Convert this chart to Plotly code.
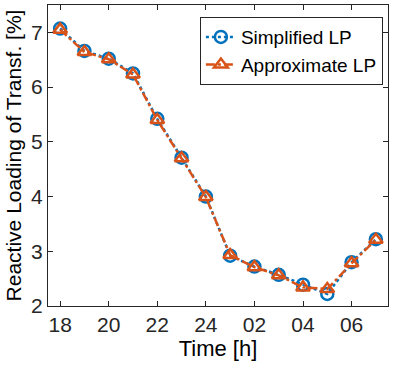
import plotly.graph_objects as go

hours = [18, 19, 20, 21, 22, 23, 24, 25, 26, 27, 28, 29, 30, 31]
simplified = [7.07, 6.66, 6.52, 6.25, 5.42, 4.71, 4.00, 2.92, 2.72, 2.57, 2.39, 2.22, 2.80, 3.22]
approximate = [7.05, 6.64, 6.51, 6.23, 5.40, 4.70, 3.99, 2.93, 2.71, 2.56, 2.34, 2.31, 2.78, 3.21]
tick_vals = [18, 20, 22, 24, 26, 28, 30]
tick_text = ["18", "20", "22", "24", "02", "04", "06"]

FONT = "Liberation Sans, Arial, sans-serif"
BLUE = "#0072BD"
ORANGE = "#D95319"

fig = go.Figure()
fig.add_trace(go.Scatter(
    x=hours, y=simplified, name="Simplified LP", mode="lines+markers",
    line=dict(color=BLUE, width=2.5, dash="dot"),
    marker=dict(symbol="circle-open", size=12, color=BLUE, line=dict(width=2.5, color=BLUE)),
))
fig.add_trace(go.Scatter(
    x=hours, y=approximate, name="Approximate LP", mode="lines+markers",
    line=dict(color=ORANGE, width=2.5, dash="dashdot"),
    marker=dict(symbol="triangle-up-open", size=12, color=ORANGE, line=dict(width=2.5, color=ORANGE)),
))

axis_common = dict(
    showline=True, linecolor="#262626", linewidth=1, mirror="ticks",
    ticks="inside", ticklen=5, tickcolor="#262626", showgrid=False, zeroline=False,
    tickfont=dict(family=FONT, size=21, color="#262626"),
)
fig.update_xaxes(
    range=[17.5, 31.5], tickvals=tick_vals, ticktext=tick_text,
    title=dict(text="Time [h]", font=dict(family=FONT, size=22, color="#000"), standoff=5),
    **axis_common,
)
fig.update_yaxes(
    range=[2, 7.5], tickvals=[2, 3, 4, 5, 6, 7],
    title=dict(text="Reactive Loading of Transf. [%]", font=dict(family=FONT, size=21, color="#000"), standoff=3),
    **axis_common,
)
fig.update_layout(
    width=401, height=370,
    margin=dict(l=48, r=13, t=5, b=64),
    paper_bgcolor="white", plot_bgcolor="white",
    showlegend=True,
    legend=dict(
        x=0.985, y=0.96, xanchor="right", yanchor="top",
        bordercolor="#262626", borderwidth=1, bgcolor="white",
        font=dict(family=FONT, size=19, color="#000"),
        tracegroupgap=0, itemwidth=30,
    ),
)
fig.write_html("out.html")
